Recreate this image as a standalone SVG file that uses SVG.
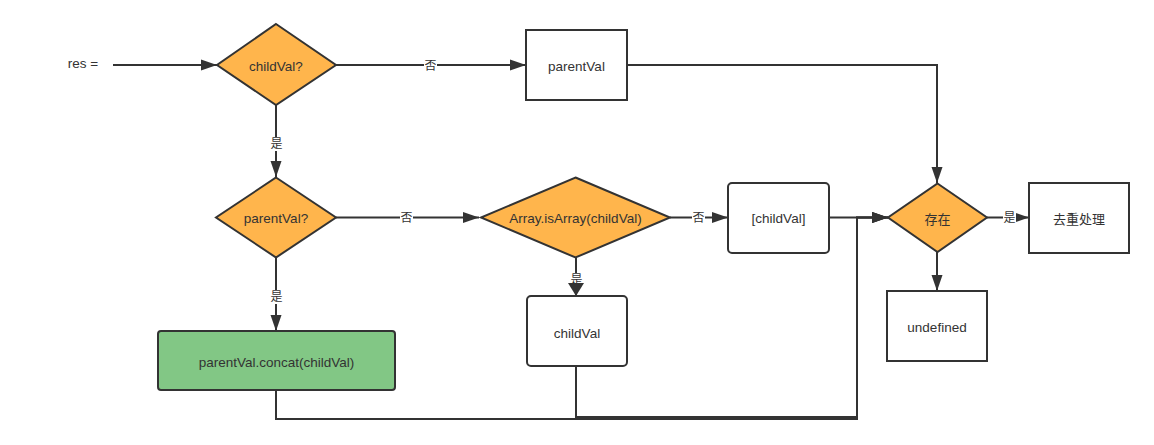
<svg xmlns="http://www.w3.org/2000/svg" width="1154" height="445" viewBox="0 0 1154 445">
<defs>
<marker id="arr" markerWidth="16" markerHeight="12" refX="16" refY="6" orient="auto" markerUnits="userSpaceOnUse">
<path d="M0,0.5 L16,6 L0,11.5 Z" fill="#333"/>
</marker>
<style>
.ln{fill:none;stroke:#333;stroke-width:2}
.ar{marker-end:url(#arr)}
.dia{fill:#FFB54C;stroke:#333;stroke-width:2}
.box{fill:#fff;stroke:#333;stroke-width:2}
.grn{fill:#82C785;stroke:#333;stroke-width:2}
text{font-family:"Liberation Sans","Noto Sans CJK SC",sans-serif;fill:#333;text-anchor:middle;dominant-baseline:central}
.t{font-size:13.5px}
.c{font-size:13px}
.lb{font-size:12px}
.lbg{fill:#fff;stroke:none}
</style>
</defs>
<rect width="1154" height="445" fill="#fff"/>
<g id="connectors">
<path class="ln ar" d="M113,65 H217"/>
<path class="ln ar" d="M336,65 H526"/>
<path class="ln ar" d="M276,105 V177"/>
<path class="ln ar" d="M627,65 H937 V183"/>
<path class="ln ar" d="M336,217.5 H479"/>
<path class="ln ar" d="M276,258 V331"/>
<path class="ln ar" d="M670,217.5 H728"/>
<path class="ln ar" d="M576,258 V296"/>
<path class="ln ar" d="M829,217.5 H888"/>
<path class="ln ar" d="M276,390 V419 H857 V217.5 H888"/>
<path class="ln ar" d="M576,366 V417 H857 V217.5 H888"/>
<path class="ln ar" d="M987,217.5 H1029"/>
<path class="ln ar" d="M937,252 V291"/>
<rect class="lbg" x="424" y="58" width="13" height="14"/>
<text class="lb" x="430.5" y="66">否</text>
<rect class="lbg" x="270" y="137" width="13" height="14"/>
<text class="lb" x="276.5" y="144">是</text>
<rect class="lbg" x="400" y="210" width="13" height="14"/>
<text class="lb" x="406.5" y="218">否</text>
<rect class="lbg" x="270" y="290" width="13" height="14"/>
<text class="lb" x="276.5" y="297">是</text>
<rect class="lbg" x="692" y="210" width="13" height="14"/>
<text class="lb" x="698.5" y="218">否</text>
<rect class="lbg" x="1003" y="210" width="13" height="14"/>
<text class="lb" x="1009.5" y="218">是</text>
<rect class="lbg" x="570" y="273" width="13" height="14"/>
<text class="lb" x="576.5" y="280">是</text>
<path d="M568,283 L576,296 L584,283 Z" fill="#333"/>
</g>
<g id="res"><text class="t" x="83" y="63">res =</text></g>
<g id="childValQ"><polygon class="dia" points="276,24 336,65 276,105 217,65"/><text class="t" x="276" y="66">childVal?</text></g>
<g id="parentVal"><rect class="box" x="526" y="30" width="101" height="70"/><text class="t" x="576.5" y="66">parentVal</text></g>
<g id="parentValQ"><polygon class="dia" points="276,177.5 336,217.5 276,257.5 216,217.5"/><text class="t" x="276" y="218.5">parentVal?</text></g>
<g id="isArray"><polygon class="dia" points="575.5,177.5 670,217.5 575.5,257.5 481,217.5"/><text class="t" x="575.5" y="218.5">Array.isArray(childVal)</text></g>
<g id="childValArr"><rect class="box" x="728" y="183" width="101" height="70" rx="4"/><text class="t" x="778.5" y="218">[childVal]</text></g>
<g id="exists"><polygon class="dia" points="937.5,183.5 987,217.5 937.5,252 888,217.5"/><text class="c" x="937.5" y="219">存在</text></g>
<g id="dedupe"><rect class="box" x="1029" y="183" width="100" height="70"/><text class="c" x="1079" y="219">去重处理</text></g>
<g id="undefined"><rect class="box" x="887" y="291" width="100" height="70"/><text class="t" x="937" y="327">undefined</text></g>
<g id="concat"><rect class="grn" x="158" y="331" width="237" height="59" rx="3"/><text class="t" x="276.5" y="362">parentVal.concat(childVal)</text></g>
<g id="childVal"><rect class="box" x="527" y="296" width="100" height="70" rx="4"/><text class="t" x="577" y="333">childVal</text></g>
</svg>
